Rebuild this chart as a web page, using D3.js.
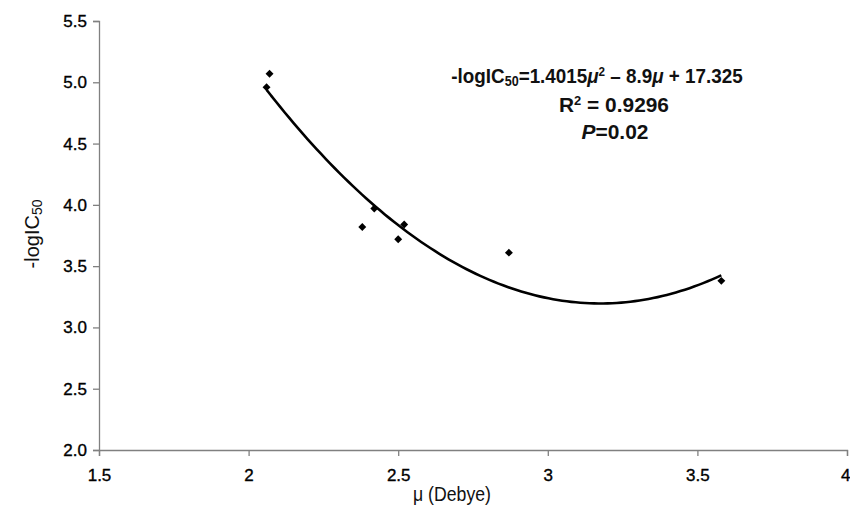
<!DOCTYPE html>
<html><head><meta charset="utf-8">
<script src="https://cdn.jsdelivr.net/npm/d3@7"></script>
<style>body{margin:0;background:#fff;} svg{display:block;}</style>
</head><body>
<svg id="c" width="850" height="510"></svg>
<script>
const muValues = [2.06, 2.07, 2.38, 2.42, 2.50, 2.52, 2.87, 3.58];
const logIC50 = [4.96, 5.07, 3.82, 3.97, 3.72, 3.84, 3.61, 3.38];
const trendCoef = [1.4015, -8.9, 17.325];
const xTicks = [1.5, 2, 2.5, 3, 3.5, 4];
const yTicks = [2.0, 2.5, 3.0, 3.5, 4.0, 4.5, 5.0, 5.5];

const svg = d3.select("#c");
const x = d3.scaleLinear().domain([1.5, 4]).range([99, 847]);
const y = d3.scaleLinear().domain([2, 5.5]).range([450, 21]);
const font = "'Liberation Sans', Arial, sans-serif";

const xAxis = svg.append("g").attr("transform", "translate(0,450)")
  .call(d3.axisBottom(x).tickValues(xTicks).tickFormat(d => d3.format("")(d)).tickSize(6).tickPadding(4));
const yAxis = svg.append("g").attr("transform", "translate(99,0)")
  .call(d3.axisLeft(y).tickValues(yTicks).tickFormat(d3.format(".1f")).tickSize(6).tickPadding(6));
[xAxis, yAxis].forEach(a => {
  a.selectAll("path,line").attr("stroke", "#808080").attr("stroke-width", 1.3);
  a.selectAll("text").attr("fill", "#000").style("font-family", font).style("font-size", "17px")
    .attr("stroke", "#000").attr("stroke-width", 0.35);
});
xAxis.selectAll("text").attr("y", 31).attr("dy", 0);
xAxis.selectAll(".tick").filter(d => d === 4).select("text").attr("text-anchor", "end").attr("x", 3);

// trendline
const xmin = d3.min(muValues), xmax = d3.max(muValues);
const trend = d3.range(0, 101).map(i => {
  const m = xmin + (xmax - xmin) * i / 100;
  return [m, trendCoef[0]*m*m + trendCoef[1]*m + trendCoef[2]];
});
svg.append("path").datum(trend)
  .attr("d", d3.line().x(d => x(d[0])).y(d => y(d[1])).curve(d3.curveBasis))
  .attr("fill", "none").attr("stroke", "#000").attr("stroke-width", 2.6);

// points
svg.append("g").selectAll("path").data(muValues).join("path")
  .attr("d", d3.symbol().type(d3.symbolDiamond2).size(40))
  .attr("transform", (d, i) => `translate(${x(d)},${y(logIC50[i])})`)
  .attr("fill", "#000");

// fit a text node to a given width about an anchor
function fitWidth(node, cx, target) {
  const bb = node.getBBox();
  const s = target / bb.width;
  d3.select(node).attr("transform", `translate(${cx},0) scale(${s},1) translate(${-cx},0)`);
}

// axis titles
const yt = svg.append("text").attr("transform", "translate(39,234) rotate(-90)")
  .attr("text-anchor", "middle").style("font-family", font).style("font-size", "20px").attr("fill", "#111");
yt.append("tspan").text("-logIC");
yt.append("tspan").attr("font-size", "14px").attr("dy", "3").text("50");

const xt = svg.append("text").attr("x", 452).attr("y", 501).attr("text-anchor", "middle")
  .style("font-family", font).style("font-size", "20px").attr("fill", "#111").text("\u03bc (Debye)");
fitWidth(xt.node(), 452, 78);

// equation
const eqFont = "'Liberation Sans', Arial, sans-serif";
const eq = svg.append("text").attr("x", 597).attr("y", 83).attr("text-anchor", "middle")
  .style("font-family", eqFont).style("font-size", "21px").style("font-weight", "bold").attr("fill", "#111");
eq.append("tspan").text("-logIC");
eq.append("tspan").attr("font-size", "14px").attr("dy", "3").text("50");
eq.append("tspan").attr("dy", "-3").text("=1.4015");
eq.append("tspan").attr("font-style", "italic").text("\u03bc");
eq.append("tspan").attr("font-size", "13px").attr("dy", "-7").text("2");
eq.append("tspan").attr("dy", "7").text(" \u2013 8.9");
eq.append("tspan").attr("font-style", "italic").text("\u03bc");
eq.append("tspan").text(" + 17.325");
fitWidth(eq.node(), 597, 292);

const r2 = svg.append("text").attr("x", 614).attr("y", 112).attr("text-anchor", "middle")
  .style("font-family", eqFont).style("font-size", "21px").style("font-weight", "bold").attr("fill", "#111");
r2.append("tspan").text("R");
r2.append("tspan").attr("font-size", "13px").attr("dy", "-7").text("2");
r2.append("tspan").attr("dy", "7").text(" = 0.9296");
fitWidth(r2.node(), 614, 110);

const p = svg.append("text").attr("x", 615).attr("y", 139).attr("text-anchor", "middle")
  .style("font-family", eqFont).style("font-size", "21px").style("font-weight", "bold").attr("fill", "#111");
p.append("tspan").attr("font-style", "italic").text("P");
p.append("tspan").text("=0.02");
fitWidth(p.node(), 615, 67);
</script>
</body></html>
